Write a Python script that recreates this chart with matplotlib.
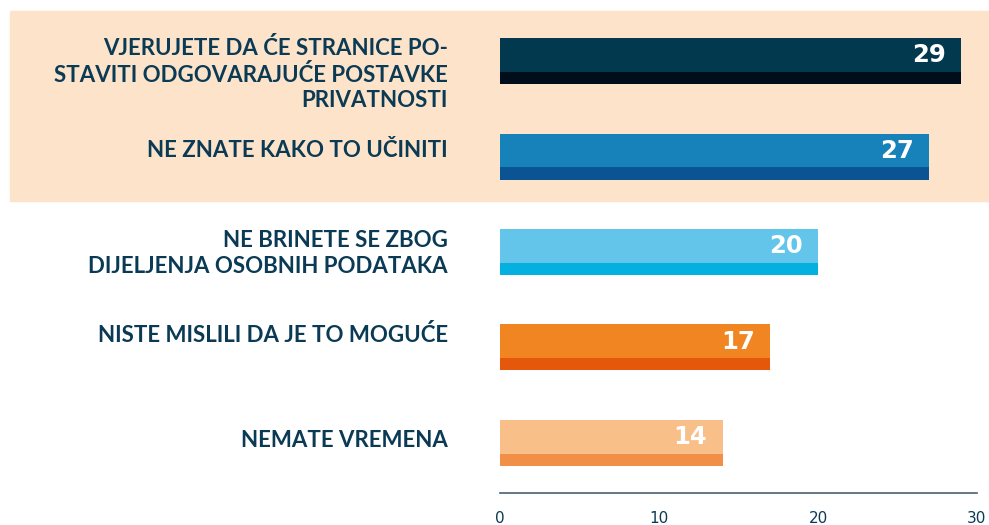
import matplotlib
matplotlib.use("Agg")
import matplotlib.pyplot as plt
from matplotlib.patches import Rectangle
from matplotlib.transforms import blended_transform_factory

# data
labels = [
    "VJERUJETE DA ĆE STRANICE PO-\nSTAVITI ODGOVARAJUĆE POSTAVKE\nPRIVATNOSTI",
    "NE ZNATE KAKO TO UČINITI",
    "NE BRINETE SE ZBOG\nDIJELJENJA OSOBNIH PODATAKA",
    "NISTE MISLILI DA JE TO MOGUĆE",
    "NEMATE VREMENA",
]
values = [29, 27, 20, 17, 14]
main_colors = ["#03394F", "#1781B9", "#63C5EA", "#F08522", "#F8BF89"]
stripe_colors = ["#000D1A", "#0A5494", "#03B0E0", "#E5580C", "#F28F46"]
xticks = [0, 10, 20, 30]

# layout: vertical nudge of each category label (in row units)
label_nudge = [0.136, -0.058, 0.016, -0.131, -0.026]

navy = "#0B3A55"
W, H = 989, 525
fig = plt.figure(figsize=(W / 100, H / 100), dpi=100)

# peach highlight band behind first two rows
fig.patches.append(Rectangle((10 / W, 1 - 201 / H), 979 / W, 190 / H,
                             transform=fig.transFigure, color="#FDE3CA", zorder=-1))

ax = fig.add_axes([500 / W, 1 - 493 / H, 477 / W, 482 / H])
ax.set_facecolor("none")

bar_h = 0.482
stripe_h = 0.126
ys = list(range(len(values)))
ax.barh(ys, values, height=bar_h, color=main_colors, zorder=2)
ax.barh([y + bar_h / 2 - stripe_h / 2 for y in ys], values, height=stripe_h,
        color=stripe_colors, zorder=3)

for y, v in zip(ys, values):
    ax.annotate(str(v), (v, y - 0.06), xytext=(-11, 0), textcoords="offset points",
                ha="right", va="center", color="white", fontsize=17.5,
                fontweight="bold", zorder=4)

# category labels right-aligned left of the bars
tr = blended_transform_factory(fig.transFigure, ax.transData)
for y, lab, dy in zip(ys, labels, label_nudge):
    ax.text(448 / W, y + dy, lab, transform=tr, ha="right", va="center",
            multialignment="right", fontsize=16, fontweight="bold",
            color=navy, family="Lato", linespacing=1.27)

ax.set_xlim(0, 30)
ax.set_ylim(4.524, -0.524)
ax.set_yticks([])
ax.set_xticks(xticks)
ax.tick_params(axis="x", length=0, pad=13, labelsize=11, labelcolor=navy)

for s in ["top", "right", "left"]:
    ax.spines[s].set_visible(False)
ax.spines["bottom"].set_color("#4A6070")
ax.spines["bottom"].set_linewidth(1.2)

fig.savefig("out.png", dpi=100)
